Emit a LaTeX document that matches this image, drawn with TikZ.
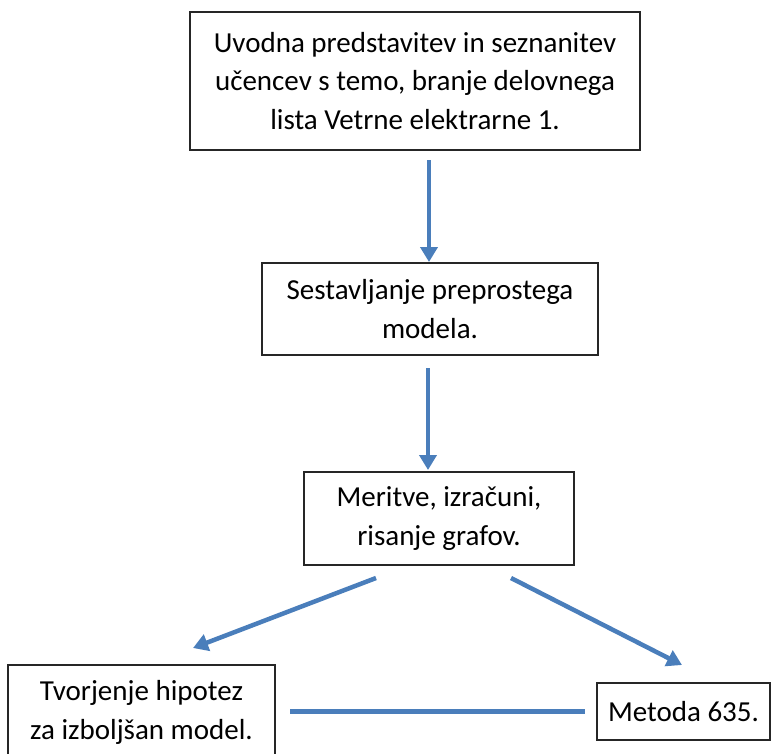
\documentclass[tikz,border=0pt]{standalone}
\usepackage{fontspec}
\setmainfont{Carlito}
\usetikzlibrary{arrows.meta}
\definecolor{wordblue}{HTML}{4A7EBB}
\begin{document}
\begin{tikzpicture}[x=1pt,y=-1pt,
  stepbox/.style={draw=black!85,line width=1.1pt,align=center,inner sep=0pt,
    font=\fontsize{29}{38.8}\selectfont},
  flow/.style={draw=wordblue,line width=4.5pt,-{Triangle[width=17pt,length=15pt]}},
  link/.style={draw=wordblue,line width=5pt}]
\useasboundingbox (0,0) rectangle (784,753);
\node[stepbox,minimum width=450pt,minimum height=138pt] (b1) at (415,81)
  {Uvodna predstavitev in seznanitev\\učencev s temo, branje delovnega\\lista Vetrne elektrarne 1.};
\node[stepbox,minimum width=336pt,minimum height=92pt] (b2) at (430,309)
  {Sestavljanje preprostega\\modela.};
\node[stepbox,minimum width=270pt,minimum height=93pt] (b3) at (439,518.5)
  {Meritve, izračuni,\\risanje grafov.};
\node[stepbox,minimum width=267pt,minimum height=95pt] (b4) at (141.5,712.5)
  {Tvorjenje hipotez\\za izboljšan model.};
\node[stepbox,minimum width=173pt,minimum height=57pt] (b5) at (683.5,711.5)
  {Metoda 635.};
\coordinate (a1s) at (429,160);
\coordinate (a1e) at (429,262);
\coordinate (a2s) at (428,368);
\coordinate (a2e) at (428,470);
\coordinate (a3s) at (376,578);
\coordinate (a3e) at (193,648);
\coordinate (a4s) at (511,578);
\coordinate (a4e) at (682,665);
\coordinate (l1s) at (290,711);
\coordinate (l1e) at (585,711);
\draw[flow] (a1s) -- (a1e);
\draw[flow] (a2s) -- (a2e);
\draw[flow] (a3s) -- (a3e);
\draw[flow] (a4s) -- (a4e);
\draw[link] (l1s) -- (l1e);
\end{tikzpicture}
\end{document}
